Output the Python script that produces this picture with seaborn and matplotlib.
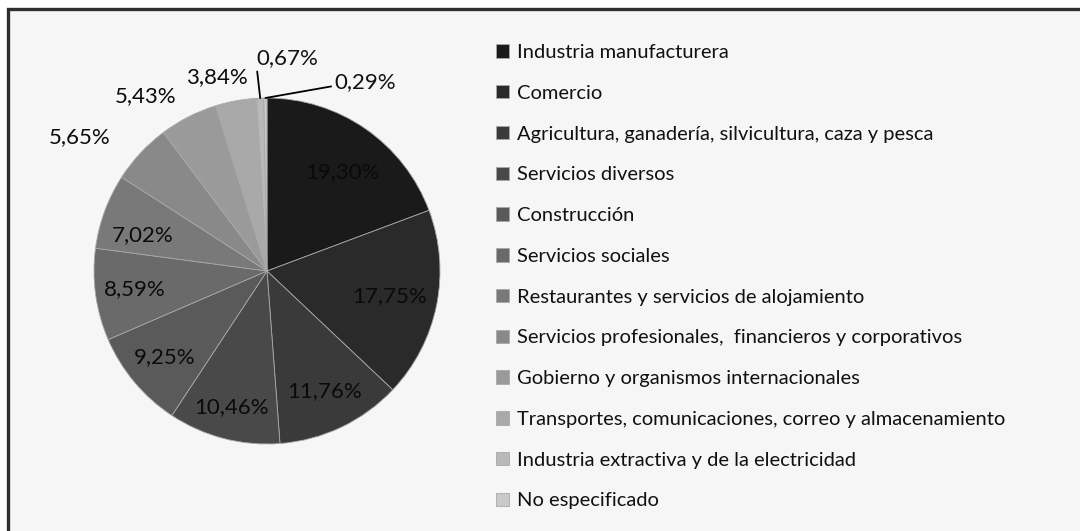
import numpy as np
import matplotlib
matplotlib.use("Agg")
import matplotlib.pyplot as plt
import seaborn as sns
from matplotlib.patches import Rectangle

# datos: porcentaje por sector
sectores = [
    "Industria manufacturera",
    "Comercio",
    "Agricultura, ganadería, silvicultura, caza y pesca",
    "Servicios diversos",
    "Construcción",
    "Servicios sociales",
    "Restaurantes y servicios de alojamiento",
    "Servicios profesionales,  financieros y corporativos",
    "Gobierno y organismos internacionales",
    "Transportes, comunicaciones, correo y almacenamiento",
    "Industria extractiva y de la electricidad",
    "No especificado",
]
porcentajes = [19.30, 17.75, 11.76, 10.46, 9.25, 8.59, 7.02, 5.65, 5.43, 3.84, 0.67, 0.29]

# posicion de cada etiqueta: distancia al centro (radios) y giro (grados)
dist_etiqueta = [0.72, 0.72, 0.77, 0.81, 0.77, 0.77, 0.75, 1.33, 1.23, 1.16, 1.24, 1.24]
giro_etiqueta = [-2.8, 0, 0, 0, 0, 0, 4.0, 7.4, 7.6, 4.2, 0, 0]

sns.set_style("white")
plt.rcParams['font.family'] = ['Lato', 'DejaVu Sans']

colores = sns.blend_palette(["#1a1a1a", "#c9c9c9"], n_colors=len(porcentajes))

fig = plt.figure(figsize=(10.8, 5.31), dpi=100)
fig.patch.set_facecolor("white")
fig.patches.append(Rectangle((8 / 1080, -0.05), 1.1, 1 - 9 / 531 + 0.05,
                             transform=fig.transFigure, facecolor="#f6f6f6",
                             edgecolor="#2f2f2f", linewidth=2.4, zorder=-5))

ax = fig.add_axes([(267 - 173) / 1080, (260 - 173) / 531, 346 / 1080, 346 / 531])
ax.set_zorder(2)
wedges, _ = ax.pie(porcentajes, colors=colores, startangle=90, counterclock=False,
                   radius=1, wedgeprops=dict(edgecolor="#a8a8a8", linewidth=0.6))
ax.set_xlim(-1, 1)
ax.set_ylim(-1, 1)
ax.set_aspect("auto")
ax.axis("off")

fs_lab = 16
for i, (w, v) in enumerate(zip(wedges, porcentajes)):
    ang = np.deg2rad((w.theta1 + w.theta2) / 2 + giro_etiqueta[i])
    r = dist_etiqueta[i]
    txt = f"{v:.2f}".replace(".", ",") + "%"
    if i == len(porcentajes) - 2:
        # 0,67% con línea guía
        ax.annotate(txt, xy=(np.cos(ang), np.sin(ang)), xytext=(0.12, 1.23),
                    ha="center", va="center", fontsize=fs_lab, color="#111111",
                    arrowprops=dict(arrowstyle="-", color="black", lw=1.3,
                                    shrinkA=0, shrinkB=0,
                                    relpos=(0.0, 0.0)))
    elif i == len(porcentajes) - 1:
        ax.annotate(txt, xy=(np.cos(ang), np.sin(ang)), xytext=(0.39, 1.09),
                    ha="left", va="center", fontsize=fs_lab, color="#111111",
                    arrowprops=dict(arrowstyle="-", color="black", lw=1.3,
                                    shrinkA=0, shrinkB=0,
                                    connectionstyle="angle,angleA=0,angleB=10,rad=0",
                                    relpos=(0.0, 0.5)))
    else:
        ax.text(r * np.cos(ang), r * np.sin(ang), txt, ha="center", va="center",
                fontsize=fs_lab, color="#0a0a0a")

leg = fig.legend(wedges, sectores, loc="upper left",
                 bbox_to_anchor=(488 / 1080, 1 - 36 / 531), frameon=False,
                 fontsize=14.5, handlelength=0.65, handleheight=0.65,
                 handletextpad=0.4, labelspacing=1.18, borderaxespad=0)
for t in leg.get_texts():
    t.set_color("#111111")

fig.savefig("out.png", dpi=100, facecolor=fig.get_facecolor())
